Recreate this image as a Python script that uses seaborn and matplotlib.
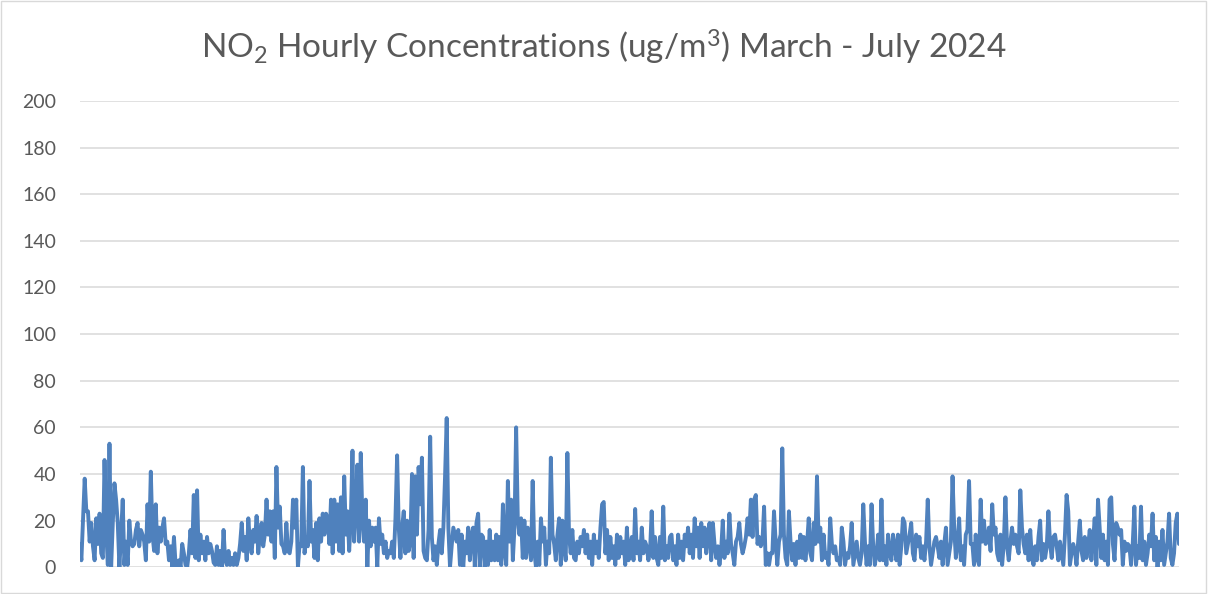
import numpy as np
import pandas as pd
import matplotlib
matplotlib.use("Agg")
import matplotlib.pyplot as plt
import seaborn as sns

# NO2 readings (ug/m3), left to right, in segments
seg1 = [10, 3, 21, 38, 24, 24, 11, 19, 9, 3, 21, 10, 23, 6, 4, 46, 16, 1, 53, 0,
        19, 36, 29, 19, 0, 14, 29, 1, 11, 1, 20, 11, 9, 10, 16, 19, 9, 16, 14, 11,
        3, 27, 11, 41, 14, 7, 27, 6, 17, 11, 17, 21, 10, 11, 3, 9, 0, 13, 1, 0,
        3, 0, 10, 6, 1, 0, 6, 16, 6, 31, 4, 33]
seg2 = [3, 14, 6, 11, 3, 13, 6, 10, 7, 2, 1, 9, 1, 7, 0, 16, 3, 1, 7, 1,
        4, 1, 6, 1, 4, 10, 19, 7, 13, 3, 21, 10, 6, 16, 11, 22, 6, 14, 19, 9,
        14, 29, 14, 24, 11, 24, 4, 43, 17, 26, 10, 9, 6, 19, 7, 6, 11, 29, 17, 29,
        0, 10, 9, 43, 6, 13, 9, 37, 11, 16, 4, 19, 3, 21, 11, 23, 14, 23]
seg3 = [21, 10, 29, 6, 29, 11, 27, 7, 30, 6, 39, 14, 24, 7, 21, 50, 11, 24, 44, 11,
        49, 21, 11, 29, 0, 20, 9, 17, 11, 17, 0, 21, 10, 14, 6, 11, 4, 7, 6, 11,
        4, 21, 48, 17, 4, 17, 24, 6, 20, 7, 11, 40, 4, 39, 14, 43, 27, 47, 7, 4,
        3, 16, 56, 13, 3, 9, 1, 10, 16, 6, 17, 39, 64, 17, 0, 9, 17, 14]
seg4 = [11, 16, 1, 14, 0, 11, 6, 17, 3, 14, 17, 0, 19, 23, 0, 14, 13, 0, 11, 1,
        16, 3, 11, 3, 14, 3, 13, 1, 27, 7, 1, 37, 11, 29, 3, 17, 60, 21, 14, 21,
        4, 20, 4, 17, 10, 3, 37, 7, 0, 11, 1, 21, 11, 17, 1, 11, 6, 47, 14, 10,
        3, 14, 21, 1, 20, 9, 3, 49, 14, 6, 16, 4, 3, 11, 6, 13, 9, 16]
seg5 = [6, 14, 4, 11, 1, 14, 6, 11, 4, 17, 27, 28, 6, 16, 3, 13, 4, 9, 1, 14,
        4, 13, 6, 11, 1, 17, 3, 9, 13, 3, 25, 6, 11, 3, 17, 6, 11, 9, 3, 7,
        24, 4, 13, 4, 1, 13, 4, 26, 3, 9, 4, 13, 14, 3, 9, 1, 14, 4, 11, 3,
        14, 9, 17, 6, 14, 4, 21, 9, 17, 4, 19, 9, 17, 6, 14, 19, 3, 19]
seg6 = [10, 4, 9, 1, 7, 20, 4, 11, 6, 23, 10, 6, 1, 11, 13, 19, 10, 6, 9, 13,
        21, 14, 29, 13, 29, 31, 10, 13, 9, 11, 26, 1, 6, 1, 6, 6, 24, 11, 1, 11,
        14, 51, 14, 4, 1, 24, 11, 3, 10, 1, 11, 4, 14, 4, 13, 3, 10, 21, 6, 3,
        19, 10, 39, 11, 17, 3, 14, 4, 6, 1, 21, 10, 6, 9, 3, 4, 1, 17]
seg7 = [11, 1, 6, 4, 9, 19, 1, 6, 11, 4, 1, 6, 27, 11, 1, 9, 1, 27, 9, 1,
        6, 14, 3, 29, 3, 9, 1, 14, 6, 3, 14, 9, 3, 14, 1, 9, 21, 19, 6, 10,
        14, 19, 6, 3, 14, 9, 13, 4, 9, 3, 11, 29, 9, 1, 6, 11, 13, 9, 4, 11,
        1, 10, 17, 1, 6, 11, 39, 17, 4, 10, 21, 3, 9, 1, 14, 16, 37, 10]
seg8 = [10, 1, 14, 4, 1, 29, 11, 20, 10, 11, 17, 7, 27, 14, 17, 6, 3, 14, 1, 10,
        30, 9, 3, 11, 17, 10, 14, 9, 6, 33, 17, 10, 6, 14, 3, 16, 4, 1, 9, 3,
        13, 20, 3, 10, 4, 9, 24, 10, 4, 13, 14, 9, 3, 11, 6, 1, 14, 31, 24, 1,
        6, 10, 7, 1, 11, 20, 7, 3, 13, 4, 9, 16, 3, 11, 21, 1, 29, 17]
seg9 = [4, 14, 3, 11, 1, 29, 30, 10, 3, 19, 17, 14, 16, 1, 11, 7, 10, 9, 1, 10,
        26, 1, 9, 4, 26, 3, 11, 1, 6, 14, 9, 23, 3, 13, 0, 11, 3, 16, 1, 6,
        11, 23, 4, 1, 6, 19, 23, 10]

no2 = np.array(seg1 + seg2 + seg3 + seg4 + seg5 + seg6 + seg7 + seg8 + seg9, dtype=float)
df = pd.DataFrame({"sample": np.arange(len(no2)), "no2": no2})

title = r"NO$_2$ Hourly Concentrations (ug/m$^3$) March - July 2024"
yticks = [0, 20, 40, 60, 80, 100, 120, 140, 160, 180, 200]

sns.set_theme(style="white")
plt.rcParams["font.family"] = ["Lato", "DejaVu Sans"]
plt.rcParams["mathtext.fontset"] = "custom"
plt.rcParams["mathtext.rm"] = "Lato"
plt.rcParams["mathtext.it"] = "Lato"

fig = plt.figure(figsize=(12.08, 5.94), dpi=100)
ax = fig.add_axes([0.066, 0.045, 0.910, 0.785])

sns.lineplot(data=df, x="sample", y="no2", ax=ax, color="#4F81BD", linewidth=2.8)

ax.set_ylim(0, 200)
ax.set_xlim(0, len(no2) - 1)
ax.set_yticks(yticks)
ax.set_xticks([])
ax.set_xlabel("")
ax.set_ylabel("")
ax.grid(axis="y", color="#D9D9D9", linewidth=1.1)
ax.set_axisbelow(True)
for s in ax.spines.values():
    s.set_visible(False)
ax.tick_params(axis="y", length=0, pad=17, labelsize=14, labelcolor="#595959")

fig.text(0.5, 0.92, title, ha="center", va="center", fontsize=24, color="#595959")

# chart area border
fig.patches.append(plt.Rectangle((0.0005, 0.001), 0.998, 0.997, transform=fig.transFigure,
                                 fill=False, edgecolor="#D9D9D9", linewidth=1))

fig.savefig("out.png", dpi=100)
